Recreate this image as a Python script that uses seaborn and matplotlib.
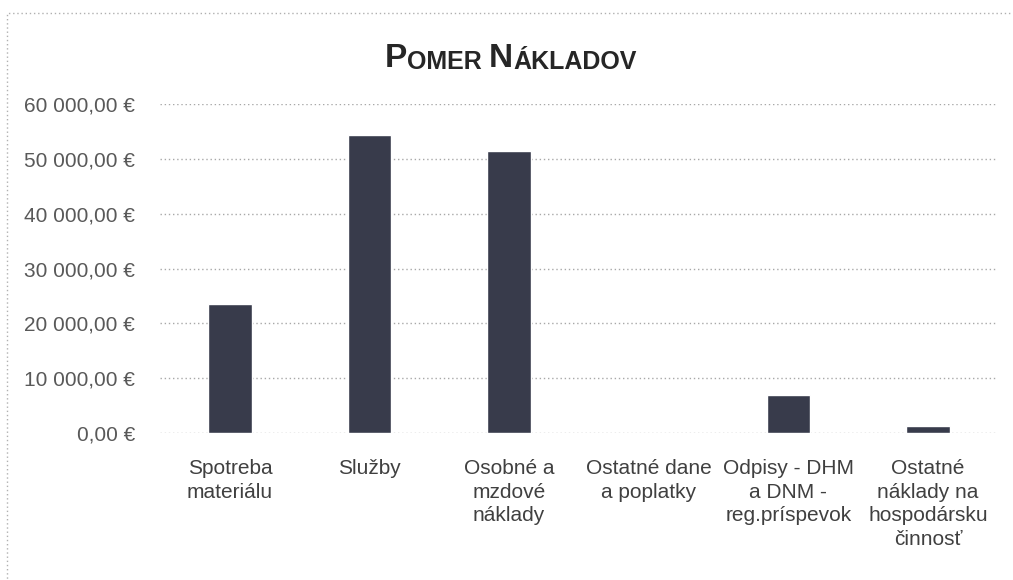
import matplotlib
matplotlib.use("Agg")
import matplotlib.pyplot as plt
import matplotlib.ticker as mticker
from matplotlib.patches import Rectangle
import seaborn as sns

kategorie = [
    "Spotreba\nmateriálu",
    "Služby",
    "Osobné a\nmzdové\nnáklady",
    "Ostatné dane\na poplatky",
    "Odpisy - DHM\na DNM -\nreg.príspevok",
    "Ostatné\nnáklady na\nhospodársku\nčinnosť",
]
naklady = [23600, 54300, 51400, 0, 6900, 1300]
y_ticky = [0, 10000, 20000, 30000, 40000, 50000, 60000]

sns.set_style("white")
plt.rcParams['font.family'] = ['Liberation Sans', 'DejaVu Sans']

fig = plt.figure(figsize=(10.13, 5.8), dpi=100)
ax = fig.add_axes([0.158, 0.2534, 0.827, 0.5673])

sns.barplot(x=kategorie, y=naklady, color="#383b4b", saturation=1, width=0.31, ax=ax, zorder=3)

ax.set_ylim(0, 60000)
ax.set_yticks(y_ticky)

def euro(v, pos):
    s = f"{v:,.2f}".replace(",", " ").replace(".", ",")
    return s + " €"

ax.yaxis.set_major_formatter(mticker.FuncFormatter(euro))
ax.tick_params(axis='y', labelsize=15, colors="#595959", length=0, pad=18)
ax.tick_params(axis='x', labelsize=15, colors="#404040", length=0, pad=19)
for lab in ax.get_xticklabels():
    lab.set_linespacing(1.3)
ax.grid(axis='y', linestyle=(0, (1, 2)), color="#a8a8a8", linewidth=1, zorder=0)
ax.set_xlabel("")
ax.set_ylabel("")
sns.despine(ax=ax, left=True, bottom=True)

# nadpis v štýle kapitálok - skladaný z kúskov
casti = [("OMER ", 18), ("N", 24), ("ÁKLADOV", 18)]
a = ax.annotate("P", xy=(0.380, 0.884), xycoords=fig.transFigure, fontsize=24,
                fontweight='bold', color="#262626", va='baseline', ha='left',
                annotation_clip=False)
for txt, fs in casti:
    a = ax.annotate(txt, xy=(1, 0), xycoords=a, fontsize=fs, fontweight='bold',
                    color="#262626", va='bottom', ha='left', annotation_clip=False)

# bodkovaný okraj grafu
fig.patches.append(Rectangle((0.007, -0.1), 1.2, 1.078, transform=fig.transFigure,
                             fill=False, linestyle=(0, (1, 2)), edgecolor="#b0b0b0", linewidth=1))

fig.savefig("out.png", dpi=100)
